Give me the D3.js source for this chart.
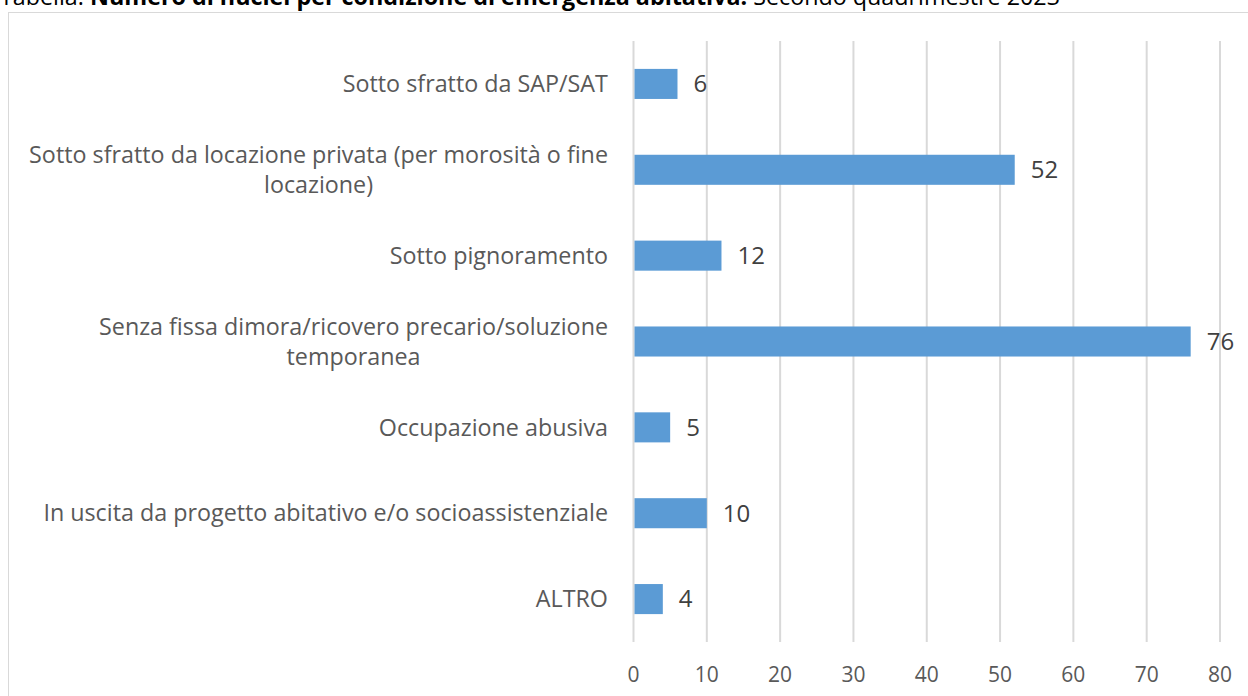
<!DOCTYPE html>
<html>
<head>
<meta charset="utf-8">
<script src="https://cdn.jsdelivr.net/npm/d3@7"></script>
<style>
  body { margin: 0; background: #fff; }
  svg { display: block; font-family: "Open Sans", sans-serif; }
</style>
</head>
<body>
<div class="chart"></div>
<script>
// data
const categories = [
  "Sotto sfratto da SAP/SAT",
  "Sotto sfratto da locazione privata (per morosità o fine|locazione)",
  "Sotto pignoramento",
  "Senza fissa dimora/ricovero precario/soluzione|temporanea",
  "Occupazione abusiva",
  "In uscita da progetto abitativo e/o socioassistenziale",
  "ALTRO"
];
const values = [6, 52, 12, 76, 5, 10, 4];
const xTicks = [0, 10, 20, 30, 40, 50, 60, 70, 80];

const width = 1248, height = 696;

const svg = d3.select(".chart").append("svg")
  .attr("width", width)
  .attr("height", height);

// title, cut at the top of the frame
const title = svg.append("text")
  .attr("x", 0)
  .attr("y", 4.5)
  .attr("font-size", 23.3)
  .attr("fill", "#000");
title.append("tspan").text("Tabella: ");
title.append("tspan").attr("font-weight", "bold").text("Numero di nuclei per condizione di emergenza abitativa.");
title.append("tspan").text(" Secondo quadrimestre 2023");

// chart frame
svg.append("rect")
  .attr("x", 8.5).attr("y", 12.5)
  .attr("width", 1260).attr("height", 700)
  .attr("fill", "#fff")
  .attr("stroke", "#d9d9d9");

const x = d3.scaleLinear().domain([0, 80]).range([633.5, 1220]);
const y = d3.scaleBand().domain(categories).range([41, 642]).paddingInner(0.65).paddingOuter(0.325);

// grid
svg.append("g")
  .selectAll("line")
  .data(xTicks)
  .join("line")
    .attr("x1", d => x(d)).attr("x2", d => x(d))
    .attr("y1", 41).attr("y2", 642)
    .attr("stroke", "#d9d9d9")
    .attr("stroke-width", 2);

// tick labels
svg.append("g")
  .selectAll("text")
  .data(xTicks)
  .join("text")
    .attr("x", d => x(d))
    .attr("y", 675)
    .attr("dy", "0.35em")
    .attr("text-anchor", "middle")
    .attr("font-size", 21)
    .attr("fill", "#595959")
    .text(d => d);

// bars
svg.append("g")
  .selectAll("rect")
  .data(values)
  .join("rect")
    .attr("x", x(0) + 1)
    .attr("y", (d, i) => y(categories[i]))
    .attr("width", d => x(d) - x(0) - 1)
    .attr("height", y.bandwidth())
    .attr("fill", "#5b9bd5");

// value labels
svg.append("g")
  .selectAll("text")
  .data(values)
  .join("text")
    .attr("x", d => x(d) + 16)
    .attr("y", (d, i) => y(categories[i]) + y.bandwidth() / 2)
    .attr("dy", "0.35em")
    .attr("font-size", 24)
    .attr("fill", "#404040")
    .text(d => d);

// category labels, wrapped lines centred on each other
const lab = svg.append("g")
  .selectAll("g")
  .data(categories)
  .join("g")
    .attr("transform", d => `translate(0,${y(d) + y.bandwidth() / 2})`);

lab.each(function(d) {
  const g = d3.select(this);
  const lines = d.split("|");
  const t = g.append("text")
    .attr("font-size", 23.3)
    .attr("fill", "#595959")
    .attr("text-anchor", "middle");
  lines.forEach((l, k) => {
    t.append("tspan")
      .attr("x", 0)
      .attr("y", (k - (lines.length - 1) / 2) * 30)
      .attr("dy", "0.35em")
      .text(l);
  });
  const w = t.node().getBBox().width;
  t.attr("transform", `translate(${608 - w / 2},0)`);
});
</script>
</body>
</html>
